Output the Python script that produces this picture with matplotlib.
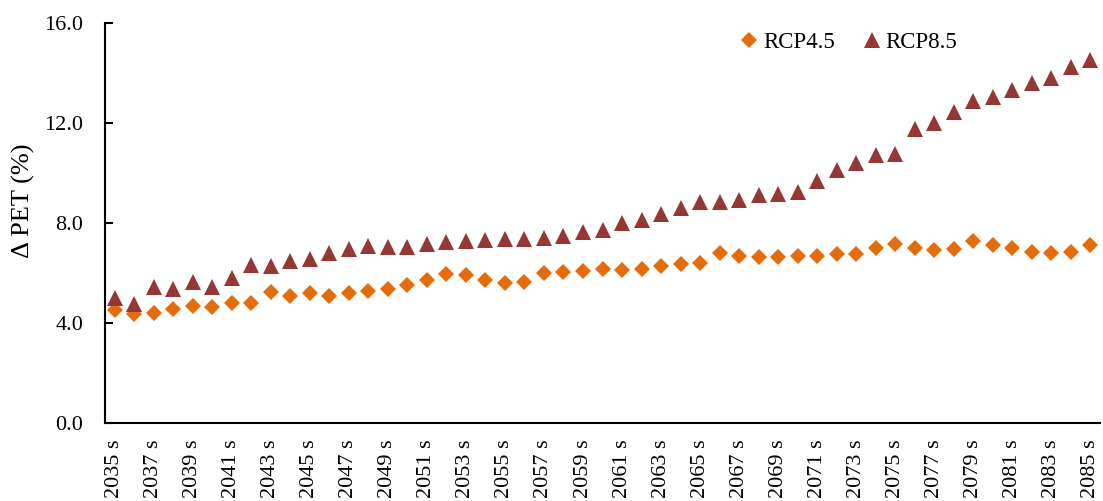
import matplotlib
matplotlib.use("Agg")
import matplotlib.pyplot as plt
from matplotlib.ticker import FormatStrFormatter

plt.rcParams['font.family'] = ['Liberation Serif', 'DejaVu Serif']

# data
years = [f"{y} s" for y in range(2035, 2086)]
rcp45 = [4.53, 4.36, 4.40, 4.56, 4.66, 4.64, 4.81, 4.81, 5.24, 5.09,
         5.19, 5.09, 5.20, 5.27, 5.37, 5.51, 5.73, 5.96, 5.93, 5.71,
         5.60, 5.65, 6.00, 6.03, 6.07, 6.17, 6.11, 6.14, 6.29, 6.34,
         6.39, 6.78, 6.67, 6.64, 6.63, 6.67, 6.68, 6.74, 6.76, 6.98,
         7.15, 6.98, 6.91, 6.94, 7.26, 7.12, 7.00, 6.84, 6.79, 6.83, 7.10]
rcp85 = [4.98, 4.76, 5.45, 5.36, 5.65, 5.44, 5.80, 6.32, 6.29, 6.46,
         6.54, 6.80, 6.95, 7.07, 7.04, 7.04, 7.16, 7.22, 7.26, 7.32,
         7.36, 7.34, 7.40, 7.46, 7.65, 7.71, 7.99, 8.13, 8.35, 8.58,
         8.82, 8.85, 8.91, 9.10, 9.15, 9.25, 9.66, 10.10, 10.41, 10.71,
         10.77, 11.74, 11.98, 12.43, 12.87, 13.03, 13.31, 13.59, 13.79, 14.23, 14.51]

fig = plt.figure(figsize=(11.03, 5.01), dpi=100)
ax = fig.add_axes([0.0952, 0.1557, 0.9021, 0.7984])

x = range(len(years))
ax.plot(x, rcp45, linestyle='none', marker='D', markersize=8, color='#E46C0A',
        markeredgewidth=0, label='RCP4.5')
ax.plot(x, rcp85, linestyle='none', marker='^', markersize=11, color='#953735',
        markeredgewidth=0, label='RCP8.5')

ax.set_xlim(-0.5, len(years) - 0.5)
ax.set_ylim(0, 16)
ax.set_yticks([0, 4, 8, 12, 16])
ax.yaxis.set_major_formatter(FormatStrFormatter('%.1f'))
ax.set_xticks(list(x)[::2])
ax.set_xticklabels(years[::2], rotation=90)

ax.spines['top'].set_visible(False)
ax.spines['right'].set_visible(False)
ax.spines['left'].set_linewidth(1.5)
ax.spines['bottom'].set_linewidth(1.5)
ax.tick_params(axis='y', direction='in', length=6, width=1.5, labelsize=16, pad=15.5)
ax.tick_params(axis='x', length=0, labelsize=16, pad=12)

ax.set_ylabel('Δ PET (%)', fontsize=19)
ax.yaxis.set_label_coords(-0.07, 0.555)

ax.legend(loc='upper right', bbox_to_anchor=(0.877, 1.03), ncol=2, frameon=False,
          fontsize=16.5, handlelength=0.8, handletextpad=0.2, columnspacing=1.2)

fig.savefig('out.png', dpi=100)
